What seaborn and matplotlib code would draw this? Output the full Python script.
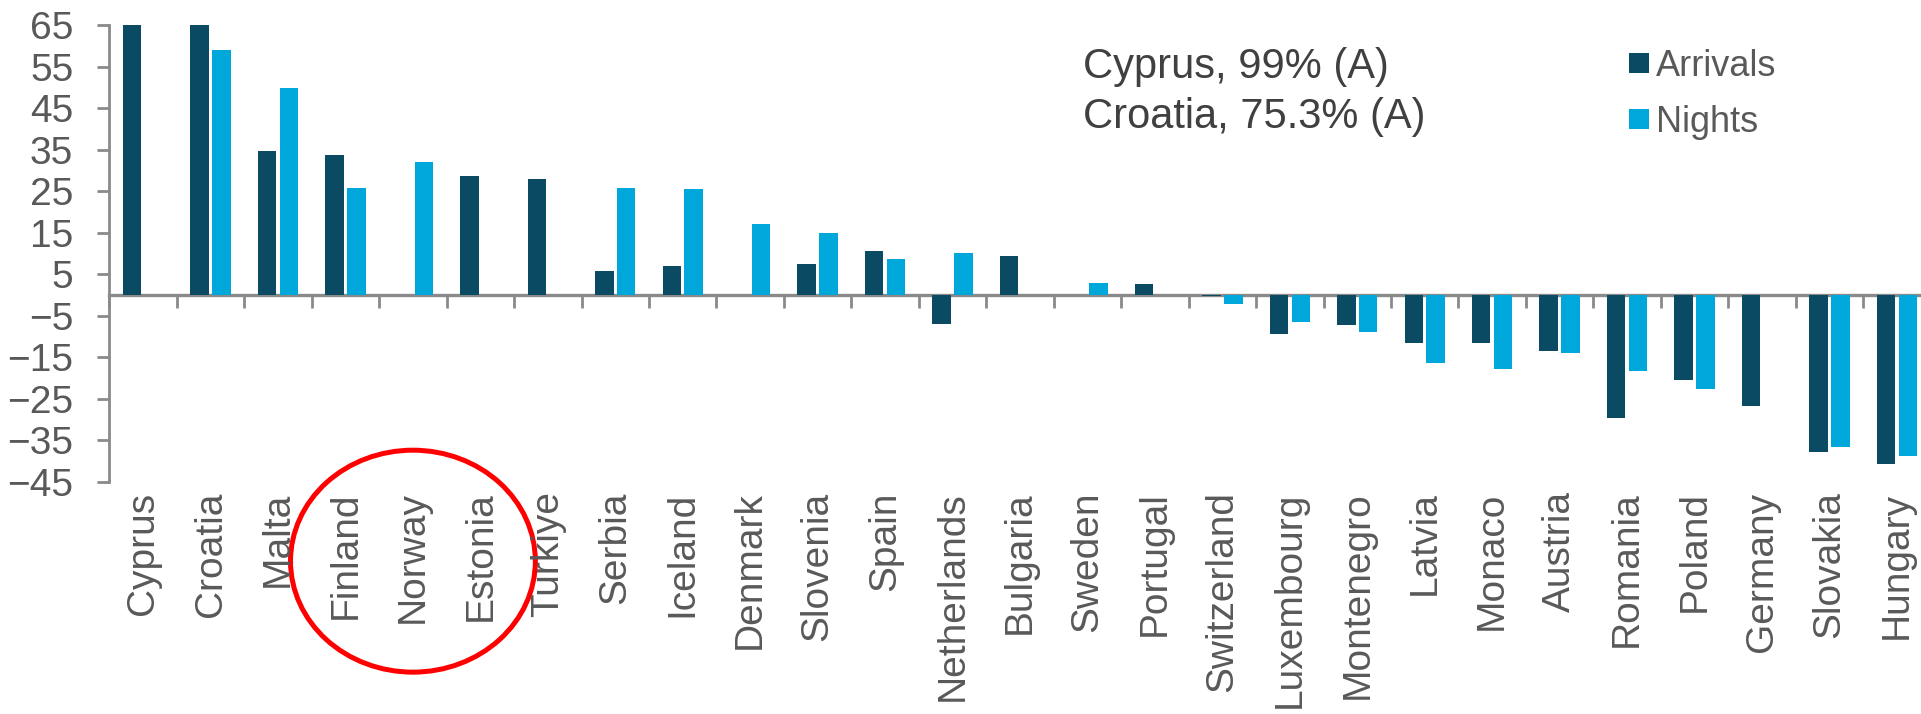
import matplotlib
matplotlib.use("Agg")
import matplotlib.pyplot as plt
import matplotlib.transforms as mtransforms
from matplotlib.patches import Ellipse
import numpy as np
import pandas as pd
import seaborn as sns

countries = ["Cyprus", "Croatia", "Malta", "Finland", "Norway", "Estonia", "Turkiye",
             "Serbia", "Iceland", "Denmark", "Slovenia", "Spain", "Netherlands",
             "Bulgaria", "Sweden", "Portugal", "Switzerland", "Luxembourg",
             "Montenegro", "Latvia", "Monaco", "Austria", "Romania", "Poland",
             "Germany", "Slovakia", "Hungary"]
arrivals = [99.0, 75.3, 34.6, 33.7, None, 28.6, 27.9,
            5.8, 7.0, None, 7.4, 10.5, -6.9,
            9.4, None, 2.7, -0.3, -9.5,
            -7.3, -11.7, -11.7, -13.4, -29.6, -20.4,
            -26.8, -37.9, -40.8]
nights = [None, 59.0, 49.9, 25.8, 32.0, None, None,
          25.8, 25.4, 17.1, 14.8, 8.6, 10.2,
          None, 2.8, None, -2.1, -6.5,
          -8.9, -16.4, -17.8, -13.9, -18.4, -22.6,
          None, -36.7, -38.9]
series = ["Arrivals", "Nights"]
colors = {"Arrivals": "#0b4a63", "Nights": "#00a7db"}
y_ticks = list(range(-45, 66, 10))
note = "Cyprus, 99% (A)\nCroatia, 75.3% (A)"

df = pd.DataFrame({"country": countries * 2,
                   "series": ["Arrivals"] * len(countries) + ["Nights"] * len(countries),
                   "value": arrivals + nights})
df = df.dropna()

W, H = 1921, 714
fig = plt.figure(figsize=(W / 100, H / 100), dpi=100)
plt.rcParams['font.family'] = ['Liberation Sans', 'DejaVu Sans']
ax = fig.add_axes([109.4 / W, 1 - 481.7 / H, 1821.2 / W, 456.7 / H])

sns.barplot(data=df, x="country", y="value", hue="series", order=countries,
            hue_order=series, palette=colors, saturation=1, width=0.65, gap=0.16,
            errorbar=None, linewidth=0, ax=ax)

grey = "#8a8a8a"
txt = "#595959"
ax.set_ylim(-45, 65)
ax.set_xlim(-0.5, len(countries) - 0.5)
ax.set_yticks(y_ticks)
ax.set_xlabel("")
ax.set_ylabel("")
for s in ["top", "right", "bottom"]:
    ax.spines[s].set_visible(False)
ax.spines["left"].set_color(grey)
ax.spines["left"].set_linewidth(2)
ax.tick_params(axis="y", length=9, width=2, color=grey, labelcolor=txt,
               labelsize=28, pad=17)
ax.tick_params(axis="x", length=0, labelcolor=txt, labelsize=28, pad=7,
               labelrotation=90)

# zero line with boundary ticks
sec = ax.secondary_xaxis(45 / 110)
sec.set_xticks(np.arange(-0.5, len(countries), 1))
sec.tick_params(length=9, width=2, color=grey, direction="out",
                labelbottom=False, labeltop=False)
for s in sec.spines.values():
    s.set_color(grey)
    s.set_linewidth(2.4)

leg = ax.get_legend()
handles = leg.legend_handles
labels = [t.get_text() for t in leg.get_texts()]
ax.legend(handles, labels, loc="upper left", bbox_to_anchor=(1629 / W, 1 - 49 / H),
          bbox_transform=fig.transFigure, frameon=False, fontsize=26,
          handlelength=0.56, handleheight=0.5, handletextpad=0.18,
          labelspacing=0.58, borderpad=0, borderaxespad=0, labelcolor=txt)

fig.text(1083 / W, 1 - 47 / H, note, ha="left", va="top", fontsize=30,
         color="#404040", linespacing=1.32)

# red ring around Finland / Norway / Estonia
trans = mtransforms.blended_transform_factory(ax.transData, ax.transAxes)
ring = Ellipse((countries.index("Norway"), -0.174), 3.63, 0.486, transform=trans,
               fill=False, edgecolor="#ff0000", linewidth=3.6, clip_on=False)
ax.add_patch(ring)

fig.savefig("out.png", dpi=100)
